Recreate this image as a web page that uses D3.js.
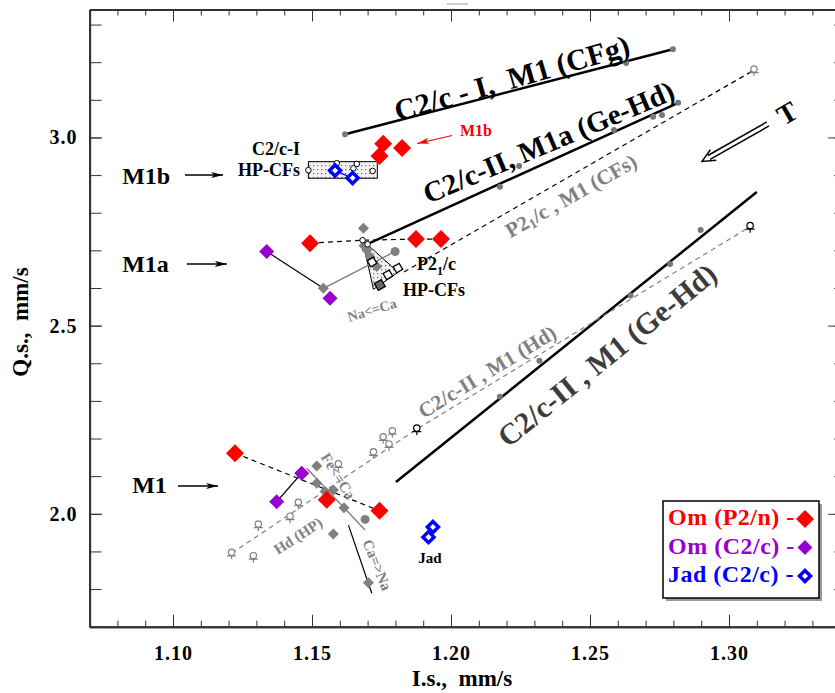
<!DOCTYPE html>
<html>
<head>
<meta charset="utf-8">
<script src="https://cdn.jsdelivr.net/npm/d3@7"></script>
<style>
  body { margin: 0; background: #fff; }
  svg { display: block; }
  text { font-family: "Liberation Serif", "Times New Roman", serif; font-weight: bold; white-space: pre; }
</style>
</head>
<body>
<svg id="chart" width="835" height="693"></svg>
<script>
// tick labels
var xTicks = [1.10, 1.15, 1.20, 1.25, 1.30];
var yTicks = [2.0, 2.5, 3.0];

// Om (P2/n) - red diamonds
var omP2n = [[1.1756, 2.983], [1.1743, 2.951], [1.1824, 2.972],
             [1.1493, 2.719], [1.1874, 2.730], [1.1964, 2.730],
             [1.1223, 2.161], [1.1553, 2.037], [1.1743, 2.008]];
// Om (C2/c) - purple diamonds
var omC2c = [[1.1337, 2.697], [1.1565, 2.573], [1.1463, 2.108], [1.1373, 2.032]];
// Jad (C2/c) - blue open diamonds
var jadC2c = [[1.1583, 2.912], [1.1646, 2.892], [1.1919, 1.938], [1.1935, 1.965]];

// grey reference diamonds and circles
var refDiamonds = [[1.1685, 2.759], [1.1687, 2.712], [1.1697, 2.701], [1.1709, 2.683], [1.1733, 2.657],
                   [1.1541, 2.599], [1.1517, 2.127], [1.1517, 2.081], [1.1547, 2.059], [1.1577, 2.063],
                   [1.1615, 2.016], [1.1577, 1.946], [1.1703, 1.817]];
var refCircles = [[1.1799, 2.697], [1.1691, 1.985]];

// trend lines and their grey points
var lineCFg = [[1.1619, 3.0085], [1.2798, 3.2344]];
var dotsCFg = [[1.1619, 3.0085], [1.2630, 3.198], [1.2798, 3.2344]];
var lineM1a = [[1.1709, 2.720], [1.2817, 3.092]];
var dotsM1a = [[1.2176, 2.869], [1.2245, 2.924], [1.2586, 3.020], [1.2727, 3.055], [1.2759, 3.060], [1.2817, 3.092]];
var lineGeHd = [[1.1802, 2.0845], [1.3100, 2.855]];
var dotsGeHd = [[1.2176, 2.311], [1.2318, 2.407], [1.2646, 2.580], [1.2788, 2.664], [1.2898, 2.754]];
var lineP21 = [[1.1831, 2.6425], [1.3090, 3.179]];
var lineHd = [[1.1211, 1.895], [1.1877, 2.225], [1.3076, 2.763]];
var hdMarksGrey = [[1.1211, 1.895], [1.1289, 1.886], [1.1307, 1.970], [1.1421, 1.991], [1.1451, 2.028],
                   [1.1595, 2.130], [1.1721, 2.162], [1.1756, 2.202], [1.1777, 2.183], [1.1789, 2.218],
                   [1.3090, 3.179]];
var hdMarksBlack = [[1.1877, 2.225], [1.3076, 2.763]];

// dashed links between Om (P2/n) points
var dashM1a = [[1.1493, 2.719], [1.1682, 2.727], [1.1874, 2.730], [1.1964, 2.730]];
var dashM1 = [[1.1223, 2.161], [1.1743, 2.008]];

// thin connectors
var blackLinks = [
  [[1.1337, 2.697], [1.1541, 2.599]],
  [[1.1463, 2.108], [1.1373, 2.032]],
  [[1.1631, 1.970], [1.1715, 1.789]]
];
var greyLinks = [
  [[1.1541, 2.599], [1.1799, 2.697]],
  [[1.1481, 2.121], [1.1691, 1.957]]
];
var blueLinks = [[[1.1583, 2.912], [1.1646, 2.892]], [[1.1919, 1.938], [1.1935, 1.965]]];

// HP-CFs areas
var hpTriangle = [[1.1682, 2.727], [1.1810, 2.642], [1.1721, 2.5965]];
var hpSquares = [[1.1716, 2.669], [1.1773, 2.635], [1.1809, 2.653]];
var hpSquareDark = [[1.1744, 2.608]];
var hpCircles = [[1.1682, 2.727], [1.1700, 2.716]];
var hpBoxX = [1.1487, 1.1735];
var hpBoxY = [2.8916, 2.9357];
var hpBoxCircles = [[1.1487, 2.913], [1.1589, 2.9315], [1.1661, 2.9296], [1.1649, 2.918], [1.1718, 2.911]];

// rotated labels: text, x, y, angle, size, colour
var lineLabels = [
  ["C2/c - I,  M1 (CFg)", 1.2219, 3.158, -16, 30, "#000"],
  ["C2/c-II, M1a (Ge-Hd)", 1.2351, 2.988, -23, 29, "#000"],
  ["C2/c-II , M1 (Hd)", 1.2130, 2.377, -31.5, 21, "#808080"],
  ["C2/c-II , M1 (Ge-Hd)", 1.2561, 2.422, -39, 30, "#3c3c3c"],
  ["Na<=Ca", 1.1716, 2.541, -17, 14, "#808080"],
  ["Fe<=Ca", 1.1594, 2.100, 58, 15, "#808080"],
  ["Ca=>Na", 1.1734, 1.864, 68, 15, "#808080"],
  ["Hd (HP)", 1.1450, 1.941, -33, 15, "#808080"],
  ["T", 1.3209, 3.065, -30, 28, "#000"]
];
// site labels with arrows: text, x, y(baseline), arrow from x, arrow to x, arrow y
var siteLabels = [
  ["M1b", 1.0817, 2.8765, 1.1043, 1.1180, 2.900],
  ["M1a", 1.0817, 2.6425, 1.1050, 1.1194, 2.664],
  ["M1", 1.0853, 2.0553, 1.1018, 1.1162, 2.074]
];

var legendItems = [
  { label: "Om (P2/n) -", color: "#ff0000", kind: "big" },
  { label: "Om (C2/c) -", color: "#9900cc", kind: "small" },
  { label: "Jad (C2/c) -", color: "#0000ff", kind: "open" }
];

var svg = d3.select("#chart");
var serif = "Liberation Serif, Times New Roman, serif";

var x = d3.scaleLinear().domain([1.07, 1.34]).range([89.6, 840.2]);
var y = d3.scaleLinear().domain([1.70, 3.34]).range([626.7, 9.5]);

function diamond(h) {
  return "M0," + (-h) + "L" + h + ",0L0," + h + "L" + (-h) + ",0Z";
}
var line = d3.line().x(function (d) { return x(d[0]); }).y(function (d) { return y(d[1]); });

// patterns and arrowheads
var defs = svg.append("defs");
var pat = defs.append("pattern").attr("id", "dots").attr("width", 4).attr("height", 4)
  .attr("patternUnits", "userSpaceOnUse");
pat.append("rect").attr("width", 4).attr("height", 4).attr("fill", "#f2f2f2");
pat.append("rect").attr("x", 1).attr("y", 1).attr("width", 1.2).attr("height", 1.2).attr("fill", "#666");
[["arrowBlack", "#000"], ["arrowRed", "#ff0000"]].forEach(function (a) {
  defs.append("marker").attr("id", a[0]).attr("viewBox", "0 0 12 6")
    .attr("refX", 12).attr("refY", 3).attr("markerWidth", 12).attr("markerHeight", 6)
    .attr("markerUnits", "userSpaceOnUse").attr("orient", "auto")
    .append("path").attr("d", "M0,0L12,3L0,6L3,3Z").attr("fill", a[1]);
});

// axes
function styleAxis(g) {
  g.attr("color", "#333").attr("font-family", serif).attr("font-size", 20).attr("font-weight", "bold");
  g.selectAll("text").attr("fill", "#000").attr("letter-spacing", 1);
  g.select(".domain").attr("stroke-width", 2);
}
var xMinor = d3.range(107, 135).map(function (d) { return d / 100; });
var yMinor = d3.range(17, 34).map(function (d) { return d / 10; });

svg.append("g").attr("transform", "translate(0," + y.range()[0] + ")")
  .call(d3.axisBottom(x).tickValues(xMinor).tickSize(-6).tickSizeOuter(0).tickFormat(""))
  .call(styleAxis);
svg.append("g").attr("transform", "translate(0," + y.range()[0] + ")")
  .call(d3.axisBottom(x).tickValues(xTicks).tickSize(-12).tickSizeOuter(0).tickPadding(19).tickFormat(d3.format(".2f")))
  .call(styleAxis);
svg.append("g").attr("transform", "translate(0," + y.range()[1] + ")")
  .call(d3.axisTop(x).tickValues(xMinor).tickSize(-6).tickSizeOuter(0).tickFormat(""))
  .call(styleAxis);
svg.append("g").attr("transform", "translate(0," + y.range()[1] + ")")
  .call(d3.axisTop(x).tickValues(xTicks).tickSize(-12).tickSizeOuter(0).tickFormat(""))
  .call(styleAxis);
svg.append("g").attr("transform", "translate(" + x.range()[0] + ",0)")
  .call(d3.axisLeft(y).tickValues(yMinor).tickSize(-12).tickSizeOuter(0).tickFormat(""))
  .call(styleAxis);
svg.append("g").attr("transform", "translate(" + x.range()[0] + ",0)")
  .call(d3.axisLeft(y).tickValues(yTicks).tickSize(-12).tickSizeOuter(0).tickPadding(12).tickFormat(d3.format(".1f")))
  .call(styleAxis);
svg.append("g").attr("transform", "translate(" + x.range()[1] + ",0)")
  .call(d3.axisRight(y).tickValues(yMinor).tickSize(-6).tickSizeOuter(0).tickFormat(""))
  .call(styleAxis);
svg.append("g").attr("transform", "translate(" + x.range()[1] + ",0)")
  .call(d3.axisRight(y).tickValues(yTicks).tickSize(-12).tickSizeOuter(0).tickFormat(""))
  .call(styleAxis);
svg.append("line").attr("x1", 447).attr("x2", 468).attr("y1", 4).attr("y2", 4)
  .attr("stroke", "#ccc").attr("stroke-width", 2);

// axis titles
svg.append("text").attr("x", 462).attr("y", 686).attr("text-anchor", "middle")
  .attr("font-size", 23).text("I.s.,  mm/s");
svg.append("text").attr("transform", "translate(28,322) rotate(-90)").attr("text-anchor", "middle")
  .attr("font-size", 23).text("Q.s.,  mm/s");

// HP-CFs areas
svg.append("rect").attr("x", x(hpBoxX[0])).attr("y", y(hpBoxY[1]))
  .attr("width", x(hpBoxX[1]) - x(hpBoxX[0])).attr("height", y(hpBoxY[0]) - y(hpBoxY[1]))
  .attr("fill", "url(#dots)").attr("stroke", "#000").attr("stroke-width", 1);
svg.append("path").attr("d", line(hpTriangle) + "Z")
  .attr("fill", "url(#dots)").attr("stroke", "#000").attr("stroke-width", 1);

// trend lines
svg.append("path").attr("d", line(lineCFg)).attr("stroke", "#000").attr("stroke-width", 2.5).attr("fill", "none");
svg.append("path").attr("d", line(lineM1a)).attr("stroke", "#000").attr("stroke-width", 2.5).attr("fill", "none");
svg.append("path").attr("d", line(lineGeHd)).attr("stroke", "#000").attr("stroke-width", 2.5).attr("fill", "none");
svg.append("path").attr("d", line(lineP21)).attr("stroke", "#000").attr("stroke-width", 1.2)
  .attr("stroke-dasharray", "5,4").attr("fill", "none");
svg.append("path").attr("d", line(lineHd)).attr("stroke", "#808080").attr("stroke-width", 1.2)
  .attr("stroke-dasharray", "5,4").attr("fill", "none");
svg.append("path").attr("d", line(dashM1a)).attr("stroke", "#000").attr("stroke-width", 1.2)
  .attr("stroke-dasharray", "5,4").attr("fill", "none");
svg.append("path").attr("d", line(dashM1)).attr("stroke", "#000").attr("stroke-width", 1.2)
  .attr("stroke-dasharray", "5,4").attr("fill", "none");

svg.selectAll(".blink").data(blackLinks).enter().append("path").attr("d", line)
  .attr("stroke", "#000").attr("stroke-width", 1.2).attr("fill", "none");
svg.selectAll(".glink").data(greyLinks).enter().append("path").attr("d", line)
  .attr("stroke", "#808080").attr("stroke-width", 1.4).attr("fill", "none");
svg.selectAll(".jlink").data(blueLinks).enter().append("path").attr("d", line)
  .attr("stroke", "#0000ff").attr("stroke-width", 1.2).attr("fill", "none");

// grey dots on trend lines
svg.selectAll(".gdot").data(dotsCFg.concat(dotsM1a, dotsGeHd)).enter().append("circle")
  .attr("cx", function (d) { return x(d[0]); }).attr("cy", function (d) { return y(d[1]); })
  .attr("r", 3).attr("fill", "#777");

// open "ring" markers on dashed lines
function ringMarks(data, color) {
  var g = svg.append("g").selectAll("g").data(data).enter().append("g")
    .attr("transform", function (d) { return "translate(" + x(d[0]) + "," + y(d[1]) + ")"; })
    .attr("stroke", color).attr("stroke-width", 1.2).attr("fill", "#fff");
  g.append("circle").attr("cy", -1).attr("r", 3.2);
  g.append("path").attr("d", "M-4.5,2.5H4.5M0,2V6");
}
ringMarks(hdMarksGrey, "#808080");
ringMarks(hdMarksBlack, "#000");

// grey reference points
svg.selectAll(".rd").data(refDiamonds).enter().append("path")
  .attr("transform", function (d) { return "translate(" + x(d[0]) + "," + y(d[1]) + ")"; })
  .attr("d", diamond(5.5)).attr("fill", "#808080");
svg.selectAll(".rc").data(refCircles).enter().append("circle")
  .attr("cx", function (d) { return x(d[0]); }).attr("cy", function (d) { return y(d[1]); })
  .attr("r", 4.5).attr("fill", "#808080");

// HP-CFs markers
svg.selectAll(".hc").data(hpCircles.concat(hpBoxCircles)).enter().append("circle")
  .attr("cx", function (d) { return x(d[0]); }).attr("cy", function (d) { return y(d[1]); })
  .attr("r", 2.8).attr("fill", "#fff").attr("stroke", "#000").attr("stroke-width", 1);
svg.selectAll(".hs").data(hpSquares).enter().append("rect")
  .attr("x", function (d) { return x(d[0]) - 3.5; }).attr("y", function (d) { return y(d[1]) - 3.5; })
  .attr("width", 7).attr("height", 7).attr("transform", function (d) {
    return "rotate(-30," + x(d[0]) + "," + y(d[1]) + ")";
  })
  .attr("fill", "#fff").attr("stroke", "#000").attr("stroke-width", 1.3);
svg.selectAll(".hsd").data(hpSquareDark).enter().append("rect")
  .attr("x", function (d) { return x(d[0]) - 4; }).attr("y", function (d) { return y(d[1]) - 4; })
  .attr("width", 8).attr("height", 8).attr("transform", function (d) {
    return "rotate(-30," + x(d[0]) + "," + y(d[1]) + ")";
  })
  .attr("fill", "#666").attr("stroke", "#000").attr("stroke-width", 1.3);

// sample points
svg.selectAll(".om1").data(omP2n).enter().append("path")
  .attr("transform", function (d) { return "translate(" + x(d[0]) + "," + y(d[1]) + ")"; })
  .attr("d", diamond(9)).attr("fill", "#ff0000");
svg.selectAll(".om2").data(omC2c).enter().append("path")
  .attr("transform", function (d) { return "translate(" + x(d[0]) + "," + y(d[1]) + ")"; })
  .attr("d", diamond(7.5)).attr("fill", "#9900cc");
svg.selectAll(".jad").data(jadC2c).enter().append("path")
  .attr("transform", function (d) { return "translate(" + x(d[0]) + "," + y(d[1]) + ")"; })
  .attr("d", diamond(5.5)).attr("fill", "#fff").attr("stroke", "#0000ff").attr("stroke-width", 3.5);

// rotated labels along lines
lineLabels.forEach(function (l) {
  svg.append("text")
    .attr("transform", "translate(" + x(l[1]) + "," + y(l[2]) + ") rotate(" + l[3] + ")")
    .attr("text-anchor", "middle").attr("dominant-baseline", "central")
    .attr("font-size", l[4]).attr("fill", l[5]).text(l[0]);
});
var p21 = svg.append("text")
  .attr("transform", "translate(" + x(1.2432) + "," + y(2.8446) + ") rotate(-29.5)")
  .attr("text-anchor", "middle").attr("dominant-baseline", "central")
  .attr("font-size", 21).attr("fill", "#808080");
p21.append("tspan").text("P2");
p21.append("tspan").attr("font-size", 14).attr("dy", 5).text("1");
p21.append("tspan").attr("dy", -5).text("/c , M1 (CFs)");

// T arrow (double shaft, open head)
var tA = [x(1.3140), y(3.0359)], tB = [x(1.2903), y(2.9363)];
var ang = Math.atan2(tB[1] - tA[1], tB[0] - tA[0]);
var nx = -Math.sin(ang) * 2.3, ny = Math.cos(ang) * 2.3;
[-1, 1].forEach(function (s) {
  svg.append("line").attr("x1", tA[0] + s * nx).attr("y1", tA[1] + s * ny)
    .attr("x2", tB[0] + Math.cos(ang) * -8 + s * nx).attr("y2", tB[1] + Math.sin(ang) * -8 + s * ny)
    .attr("stroke", "#000").attr("stroke-width", 1.5);
});
var hw = [[-13, -6], [0, 0], [-13, 6]].map(function (p) {
  return [tB[0] + p[0] * Math.cos(ang) - p[1] * Math.sin(ang), tB[1] + p[0] * Math.sin(ang) + p[1] * Math.cos(ang)];
});
svg.append("path").attr("d", d3.line()(hw)).attr("stroke", "#000").attr("stroke-width", 1.5).attr("fill", "none");

// site labels with arrows
siteLabels.forEach(function (s) {
  svg.append("text").attr("x", x(s[1])).attr("y", y(s[2])).attr("font-size", 24).text(s[0]);
  svg.append("line").attr("x1", x(s[3])).attr("x2", x(s[4])).attr("y1", y(s[5])).attr("y2", y(s[5]))
    .attr("stroke", "#000").attr("stroke-width", 1.5).attr("marker-end", "url(#arrowBlack)");
});

// red M1b pointer
svg.append("text").attr("x", x(1.2032)).attr("y", y(3.0026)).attr("font-size", 16)
  .attr("fill", "#ff0000").text("M1b");
svg.append("line").attr("x1", x(1.2004)).attr("y1", y(3.0053)).attr("x2", x(1.1878)).attr("y2", y(2.984))
  .attr("stroke", "#ff0000").attr("stroke-width", 1.2).attr("marker-end", "url(#arrowRed)");

// HP-CFs labels
svg.append("text").attr("x", x(1.1457)).attr("y", y(2.9535)).attr("text-anchor", "end")
  .attr("font-size", 18).text("C2/c-I");
svg.append("text").attr("x", x(1.1457)).attr("y", y(2.8977)).attr("text-anchor", "end")
  .attr("font-size", 18).text("HP-CFs");
var p21hp = svg.append("text").attr("x", x(1.1878)).attr("y", y(2.6479)).attr("font-size", 18);
p21hp.append("tspan").text("P2");
p21hp.append("tspan").attr("font-size", 12).attr("dy", 5).text("1");
p21hp.append("tspan").attr("dy", -5).text("/c");
svg.append("text").attr("x", x(1.1827)).attr("y", y(2.5788)).attr("font-size", 18).text("HP-CFs");
svg.append("text").attr("x", x(1.1924)).attr("y", y(1.8693)).attr("text-anchor", "middle")
  .attr("font-size", 15).text("Jad");

// legend
var lg = svg.append("g").attr("transform", "translate(663,501)");
lg.append("rect").attr("x", 3).attr("y", 3).attr("width", 156).attr("height", 97).attr("fill", "#999");
lg.append("rect").attr("width", 156).attr("height", 97).attr("fill", "#fff")
  .attr("stroke", "#000").attr("stroke-width", 1.5);
var li = lg.selectAll(".li").data(legendItems).enter().append("g")
  .attr("transform", function (d, i) { return "translate(0," + (24 + i * 28.5) + ")"; });
li.append("text").attr("x", 5).attr("font-size", 24).attr("letter-spacing", 0.5)
  .attr("fill", function (d) { return d.color; })
  .text(function (d) { return d.label; });
li.append("path").attr("transform", "translate(142,-6)")
  .attr("d", function (d) { return diamond(d.kind === "big" ? 9 : d.kind === "small" ? 7.5 : 5.5); })
  .attr("fill", function (d) { return d.kind === "open" ? "#fff" : d.color; })
  .attr("stroke", function (d) { return d.kind === "open" ? d.color : "none"; })
  .attr("stroke-width", 3.5);
</script>
</body>
</html>
